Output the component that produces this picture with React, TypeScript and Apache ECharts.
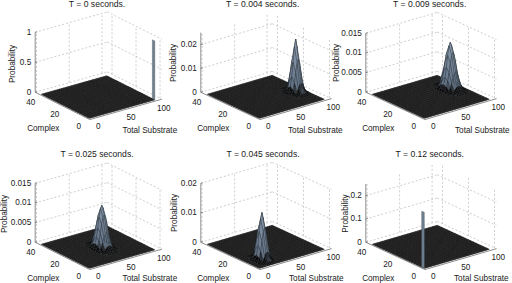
import React, { useEffect, useRef } from "react";
import * as echarts from "echarts";

const titles = ["T = 0 seconds.", "T = 0.004 seconds.", "T = 0.009 seconds.", "T = 0.025 seconds.", "T = 0.045 seconds.", "T = 0.12 seconds."];
const probLimits = [1, 0.025, 0.015, 0.015, 0.02, 0.25];
const probTicks = [
  [0, 0.5, 1],
  [0, 0.01, 0.02],
  [0, 0.005, 0.01, 0.015],
  [0, 0.005, 0.01, 0.015],
  [0, 0.01, 0.02],
  [0, 0.1, 0.2],
];
const substrateTicks = [0, 50, 100];
const complexTicks = [0, 20, 40];

// Probability peaks: first mesh index values, then rows (Complex, step 2) of columns (Substrate, step 2).
const peakStart = [
  [100, 0],
  [76, 10],
  [72, 14],
  [40, 10],
  [10, 2],
  [0, 0],
];
const peak0: number[][] = [];
const peak1 = [
  [0, 0, 0.0001, 0.0002, 0.0004, 0.0006, 0.0007, 0.0006, 0.0004, 0.0002, 0.0001, 0, 0],
  [0.0001, 0.0002, 0.0006, 0.0015, 0.0029, 0.0041, 0.0046, 0.0042, 0.0028, 0.0015, 0.0006, 0.0002, 0.0001],
  [0.0002, 0.0006, 0.0019, 0.0047, 0.0088, 0.0127, 0.0143, 0.0126, 0.0086, 0.0046, 0.0019, 0.0006, 0.0002],
  [0.0003, 0.001, 0.0028, 0.0068, 0.0128, 0.0192, 0.0222, 0.019, 0.0127, 0.0068, 0.0028, 0.0009, 0.0003],
  [0.0002, 0.0006, 0.0019, 0.0046, 0.0087, 0.0126, 0.0142, 0.0125, 0.0087, 0.0046, 0.0019, 0.0006, 0.0002],
  [0.0001, 0.0002, 0.0006, 0.0015, 0.0028, 0.004, 0.0046, 0.0041, 0.0028, 0.0014, 0.0006, 0.0002, 0.0001],
  [0, 0, 0.0001, 0.0002, 0.0004, 0.0006, 0.0007, 0.0006, 0.0004, 0.0002, 0.0001, 0, 0],
];
const peak2 = [
  [0, 0, 0.0001, 0.0002, 0.0003, 0.0003, 0.0004, 0.0003, 0.0003, 0.0002, 0.0001, 0, 0],
  [0.0001, 0.0002, 0.0004, 0.0008, 0.0012, 0.0015, 0.0016, 0.0015, 0.0012, 0.0008, 0.0004, 0.0002, 0.0001],
  [0.0003, 0.0007, 0.0014, 0.0024, 0.0036, 0.0045, 0.0049, 0.0046, 0.0036, 0.0024, 0.0014, 0.0007, 0.0003],
  [0.0005, 0.0013, 0.0027, 0.0047, 0.007, 0.0089, 0.0096, 0.0089, 0.007, 0.0047, 0.0027, 0.0013, 0.0005],
  [0.0007, 0.0016, 0.0033, 0.0058, 0.0087, 0.0111, 0.0119, 0.011, 0.0087, 0.0058, 0.0033, 0.0016, 0.0007],
  [0.0005, 0.0013, 0.0026, 0.0046, 0.0069, 0.0088, 0.0095, 0.0089, 0.007, 0.0047, 0.0027, 0.0013, 0.0005],
  [0.0003, 0.0007, 0.0014, 0.0024, 0.0036, 0.0046, 0.0049, 0.0045, 0.0036, 0.0024, 0.0014, 0.0007, 0.0003],
  [0.0001, 0.0002, 0.0004, 0.0008, 0.0012, 0.0015, 0.0016, 0.0015, 0.0012, 0.0008, 0.0004, 0.0002, 0.0001],
  [0, 0, 0.0001, 0.0002, 0.0003, 0.0003, 0.0004, 0.0003, 0.0003, 0.0002, 0.0001, 0, 0],
];
const peak3 = [
  [0, 0, 0.0001, 0.0002, 0.0002, 0.0003, 0.0003, 0.0003, 0.0002, 0.0002, 0.0001, 0, 0],
  [0.0001, 0.0002, 0.0004, 0.0007, 0.0011, 0.0013, 0.0014, 0.0013, 0.001, 0.0007, 0.0004, 0.0002, 0.0001],
  [0.0003, 0.0006, 0.0013, 0.0023, 0.0033, 0.0041, 0.0045, 0.0042, 0.0033, 0.0022, 0.0013, 0.0006, 0.0003],
  [0.0005, 0.0012, 0.0025, 0.0043, 0.0064, 0.0081, 0.0087, 0.0082, 0.0064, 0.0043, 0.0025, 0.0012, 0.0005],
  [0.0006, 0.0015, 0.003, 0.0053, 0.008, 0.0101, 0.0108, 0.0101, 0.0079, 0.0053, 0.003, 0.0015, 0.0006],
  [0.0005, 0.0012, 0.0025, 0.0042, 0.0063, 0.008, 0.0086, 0.0081, 0.0063, 0.0043, 0.0024, 0.0012, 0.0005],
  [0.0003, 0.0006, 0.0013, 0.0022, 0.0033, 0.0042, 0.0044, 0.0041, 0.0033, 0.0022, 0.0012, 0.0006, 0.0003],
  [0.0001, 0.0002, 0.0004, 0.0007, 0.001, 0.0013, 0.0014, 0.0013, 0.001, 0.0007, 0.0004, 0.0002, 0.0001],
  [0, 0, 0.0001, 0.0002, 0.0002, 0.0003, 0.0003, 0.0003, 0.0002, 0.0002, 0.0001, 0, 0],
];
const peak4 = [
  [0, 0.0001, 0.0002, 0.0003, 0.0005, 0.0005, 0.0004, 0.0002, 0.0001, 0, 0],
  [0.0002, 0.0005, 0.0011, 0.0021, 0.003, 0.0034, 0.003, 0.002, 0.0011, 0.0004, 0.0001],
  [0.0004, 0.0014, 0.0036, 0.0067, 0.0098, 0.0112, 0.0097, 0.0067, 0.0035, 0.0014, 0.0004],
  [0.0006, 0.002, 0.0052, 0.0098, 0.014, 0.016, 0.0141, 0.0097, 0.0051, 0.002, 0.0006],
  [0.0004, 0.0014, 0.0035, 0.0067, 0.0097, 0.0111, 0.0098, 0.0066, 0.0035, 0.0013, 0.0004],
  [0.0001, 0.0004, 0.0011, 0.0021, 0.003, 0.0034, 0.003, 0.002, 0.0011, 0.0004, 0.0001],
  [0, 0.0001, 0.0002, 0.0003, 0.0005, 0.0005, 0.0004, 0.0002, 0.0001, 0, 0],
];
const peak5: number[][] = [];
const peaks = [peak0, peak1, peak2, peak3, peak4, peak5];
// Single narrow columns: [Substrate, Complex from, Complex to, Probability]
const spikes: number[][][] = [[[100, 0, 2, 0.98]], [], [], [], [], [[0, 0, 2, 0.24]]];

const FONT = '"Liberation Sans", Arial, sans-serif';
const FS_TITLE = 8.6;
const FS = 8.2;
const TXT = "#1a1a1a";
const S_STEP = 2;
const C_STEP = 2;

// Panel placement on the page and projection of the 3D axes.
const layout = [
  { left: 0, top: 0, ox: 89.3, oy: 118.3, ux: 0.655, uy: -0.185, vx: -1.2, vy: -0.6, h: 60, tx: 97, ty: 4, px: 12.7, py: 64, sl: 60.6, ly: 11.7 },
  { left: 170, top: 0, ox: 89.3, oy: 118.3, ux: 0.65, uy: -0.19, vx: -1.3, vy: -0.6, h: 59.6, tx: 92.7, ty: 4, px: 3.5, py: 63, sl: 56, ly: 11.7 },
  { left: 337, top: 0, ox: 87.3, oy: 118.3, ux: 0.65, uy: -0.19, vx: -1.3, vy: -0.6, h: 59, tx: 92.7, ty: 4, px: -1, py: 63, sl: 58, ly: 11.7 },
  { left: 0, top: 141, ox: 89.3, oy: 127.3, ux: 0.655, uy: -0.185, vx: -1.2, vy: -0.6, h: 59, tx: 97, ty: 13, px: 4.8, py: 73, sl: 60.6, ly: 10.3 },
  { left: 170, top: 141, ox: 89.3, oy: 127.3, ux: 0.65, uy: -0.19, vx: -1.3, vy: -0.6, h: 59, tx: 93, ty: 13, px: 4, py: 72, sl: 57, ly: 10.3 },
  { left: 337, top: 141, ox: 87.3, oy: 127.3, ux: 0.65, uy: -0.19, vx: -1.3, vy: -0.6, h: 58.3, tx: 92.7, ty: 13, px: 8, py: 72.6, sl: 57, ly: 10.3 },
];
const PANEL_W = 167;
const PANEL_H = 141;
const S_MIN = -2;
const S_MAX = 108;
const C_MIN = -1.5;
const C_MAX = 44;

function heightAt(i: number, s: number, c: number): number {
  const [s0, c0] = peakStart[i];
  const row = peaks[i][(c - c0) / C_STEP];
  if (!row) return 0;
  return row[(s - s0) / S_STEP] ?? 0;
}

function mix(a: number[], b: number[], t: number) {
  return `rgb(${a.map((v, k) => Math.round(v + (b[k] - v) * t)).join(",")})`;
}

function faceColor(t: number) {
  if (t < 0.002) return "#2d2d2d";
  if (t < 0.06) return "#0c0c0e";
  if (t < 0.12) return mix([12, 12, 14], [98, 113, 132], (t - 0.06) / 0.06);
  return mix([98, 113, 132], [145, 161, 181], Math.min(1, (t - 0.12) / 0.7));
}

function buildOption() {
  const grid: any[] = [];
  const xAxis: any[] = [];
  const yAxis: any[] = [];
  const series: any[] = [];
  const title: any[] = [];
  layout.forEach((p, i) => {
    const pmax = probLimits[i];
    grid.push({ left: p.left, top: p.top, width: PANEL_W, height: PANEL_H, show: false });
    xAxis.push({ gridIndex: i, type: "value", min: 0, max: PANEL_W, show: false });
    yAxis.push({ gridIndex: i, type: "value", min: 0, max: PANEL_H, inverse: true, show: false });
    title.push({
      text: titles[i],
      left: p.left + p.tx,
      top: p.top + p.ty - 5,
      textAlign: "center",
      padding: 0,
      textStyle: { fontFamily: FONT, fontSize: FS_TITLE, fontWeight: "normal", color: TXT, lineHeight: 10 },
    });
    const proj = (api: any, s: number, c: number, z: number) =>
      api.coord([p.ox + s * p.ux + c * p.vx, p.oy + s * p.uy + c * p.vy - (z / pmax) * p.h]);

    const frame = (_: any, api: any) => {
      const ch: any[] = [];
      const ln = (a: number[], b: number[], style: any) =>
        ch.push({ type: "line", shape: { x1: a[0], y1: a[1], x2: b[0], y2: b[1] }, style });
      const txt = (text: string, x: number, y: number, align = "center", rotation = 0) =>
        ch.push({
          type: "text",
          x,
          y,
          rotation,
          style: { text, align, verticalAlign: "middle", fontFamily: FONT, fontSize: FS, fill: TXT },
        });
      const dash = { stroke: "#c2c2c2", lineWidth: 0.8, lineDash: [2, 2] };
      const solid = { stroke: "#707070", lineWidth: 0.8 };
      substrateTicks.forEach((s) => ln(proj(api, s, C_MAX, 0), proj(api, s, C_MAX, pmax), dash));
      complexTicks.forEach((c) => ln(proj(api, S_MAX, c, 0), proj(api, S_MAX, c, pmax), dash));
      probTicks[i].forEach((z) => {
        ln(proj(api, S_MIN, C_MAX, z), proj(api, S_MAX, C_MAX, z), dash);
        ln(proj(api, S_MAX, C_MAX, z), proj(api, S_MAX, C_MIN, z), dash);
      });
      ln(proj(api, S_MIN, C_MAX, 0), proj(api, S_MIN, C_MAX, pmax), solid);
      ln(proj(api, S_MIN, C_MIN, 0), proj(api, S_MIN, C_MAX, 0), solid);
      ln(proj(api, S_MIN, C_MIN, 0), proj(api, S_MAX, C_MIN, 0), solid);
      probTicks[i].forEach((z) => {
        const a = proj(api, S_MIN, C_MAX, z);
        ln(a, [a[0] + 2, a[1] - 0.5], solid);
        txt(String(z), a[0] - 4, a[1], "right");
      });
      substrateTicks.forEach((s) => {
        const a = proj(api, s, 0, 0);
        txt(String(s), a[0] + 9, a[1] + 8.5);
      });
      complexTicks.forEach((c) => {
        const a = proj(api, 0, c, 0);
        txt(String(c), a[0] - 10.5, a[1] + 8);
      });
      const o = proj(api, 0, 0, 0);
      txt("Complex", o[0] - 46, o[1] + 10);
      txt("Total Substrate", o[0] + p.sl, o[1] + p.ly);
      const pl = api.coord([p.px, p.py]);
      txt("Probability", pl[0], pl[1], "center", Math.PI / 2);
      return { type: "group", children: ch };
    };

    series.push({
      type: "custom",
      coordinateSystem: "cartesian2d",
      xAxisIndex: i,
      yAxisIndex: i,
      clip: false,
      silent: true,
      z: 1,
      renderItem: frame,
      data: [[0, 0]],
    });

    const cells: number[][] = [];
    for (let s = 100 - S_STEP; s >= 0; s -= S_STEP) {
      for (let c = 40 - C_STEP; c >= 0; c -= C_STEP) {
        cells.push([
          s,
          c,
          heightAt(i, s, c),
          heightAt(i, s + S_STEP, c),
          heightAt(i, s + S_STEP, c + C_STEP),
          heightAt(i, s, c + C_STEP),
        ]);
      }
    }
    series.push({
      type: "custom",
      coordinateSystem: "cartesian2d",
      xAxisIndex: i,
      yAxisIndex: i,
      clip: false,
      silent: true,
      z: 2,
      encode: { x: 0, y: 1 },
      renderItem: (_: any, api: any) => {
        const s = api.value(0);
        const c = api.value(1);
        const z = [api.value(2), api.value(3), api.value(4), api.value(5)];
        const top = Math.max(...z);
        const t = (z[0] + z[1] + z[2] + z[3]) / 4 / pmax;
        return {
          type: "polygon",
          shape: {
            points: [
              proj(api, s, c, z[0]),
              proj(api, s + S_STEP, c, z[1]),
              proj(api, s + S_STEP, c + C_STEP, z[2]),
              proj(api, s, c + C_STEP, z[3]),
            ],
          },
          style: {
            fill: faceColor(t),
            stroke: top === 0 ? "#161616" : t > 0.12 ? "#2a3038" : "#0e1012",
            lineWidth: top === 0 ? 0.5 : 0.35,
          },
        };
      },
      data: cells,
    });

    if (spikes[i].length) {
      series.push({
        type: "custom",
        coordinateSystem: "cartesian2d",
        xAxisIndex: i,
        yAxisIndex: i,
        clip: false,
        silent: true,
        z: 3,
        encode: { x: 0, y: 1 },
        renderItem: (_: any, api: any) => {
          const s = api.value(0);
          const c0 = api.value(1);
          const c1 = api.value(2);
          const z = api.value(3);
          return {
            type: "polygon",
            shape: { points: [proj(api, s, c0, 0), proj(api, s, c1, 0), proj(api, s, c1, z), proj(api, s, c0, z)] },
            style: { fill: "#6f8090", stroke: "#4a5560", lineWidth: 0.4 },
          };
        },
        data: spikes[i],
      });
    }
  });
  return { animation: false, backgroundColor: "#fff", title, grid, xAxis, yAxis, series };
}

export default function App() {
  const ref = useRef<HTMLDivElement>(null);
  useEffect(() => {
    const chart = echarts.init(ref.current!, undefined, { renderer: "svg" });
    chart.setOption(buildOption() as any);
    return () => chart.dispose();
  }, []);
  return <div ref={ref} style={{ position: "fixed", left: 0, top: 0, width: 512, height: 283 }} />;
}
